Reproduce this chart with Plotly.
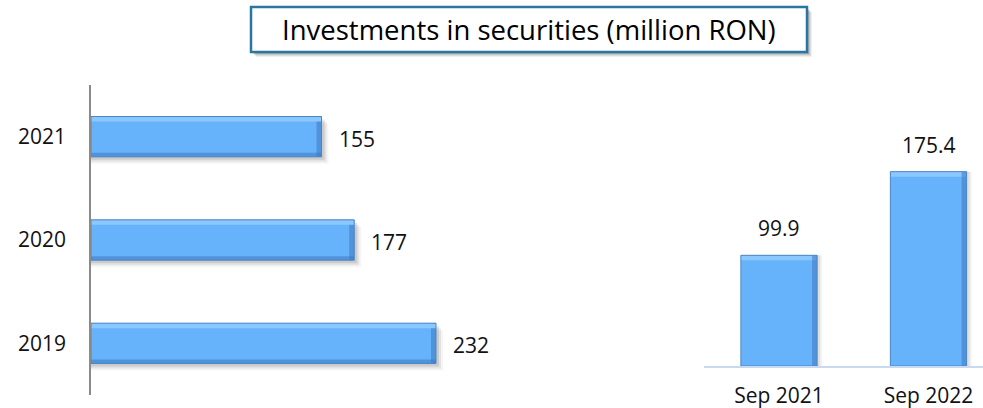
import plotly.graph_objects as go

years = ["2019", "2020", "2021"]
year_values = [232, 177, 155]
months = ["Sep 2021", "Sep 2022"]
month_values = [99.9, 175.4]
month_labels = ["99.9", "175.4"]
title_text = "Investments in securities (million RON)"

W, H = 983, 408
FONT = "Open Sans, Noto Sans, sans-serif"
BAR = "#66b3fb"
LIGHT = "#8ac8ff"
DARK = "rgba(62,120,192,0.55)"
EDGE = "#4a86c4"

def px(x):
    return x / W

def py(y):
    return 1 - y / H

L_X0, L_X1 = 91, 500
L_SCALE = (436 - 91) / 232.0          # px per million RON, left chart
L_CAT = 103.0                          # px per category, left chart
R_X0, R_X1 = 704.25, 983
R_SCALE = 1.108                        # px per million RON, right chart
R_CAT = 149.5                          # px per category, right chart
R_BASE, R_TOP = 366, 100

HW = 0.39   # horizontal bar thickness (category units)
VW = 0.51   # vertical bar width (category units)

fig = go.Figure()

def hbar(x, offset, width, color, base=None, line=None):
    fig.add_trace(go.Bar(
        y=years, x=x, base=base, orientation="h", offset=offset, width=width,
        marker=dict(color=color, line=line or dict(width=0)),
        xaxis="x", yaxis="y", showlegend=False, hoverinfo="skip",
    ))

def vbar(y, offset, width, color, base=None, line=None):
    fig.add_trace(go.Bar(
        x=months, y=y, base=base, offset=offset, width=width,
        marker=dict(color=color, line=line or dict(width=0)),
        xaxis="x2", yaxis="y2", showlegend=False, hoverinfo="skip",
    ))

# --- left: horizontal bars with bevel + drop shadow
for k, op in [(7, 0.04), (5, 0.07), (3, 0.10)]:
    hbar([v + k / L_SCALE for v in year_values], -HW / 2 - k / L_CAT, HW,
         f"rgba(0,0,0,{op})")
hbar(year_values, -HW / 2, HW, BAR)
hbar([5 / L_SCALE] * len(year_values), -HW / 2, HW, DARK,
     base=[v - 5 / L_SCALE for v in year_values])
hbar(year_values, HW / 2 - 5 / L_CAT, 5 / L_CAT, LIGHT)
hbar(year_values, -HW / 2, 4 / L_CAT, DARK)
hbar(year_values, -HW / 2, HW, "rgba(0,0,0,0)", line=dict(color=EDGE, width=1))

# --- right: vertical bars with bevel + drop shadow
for k, op in [(5, 0.05), (3, 0.08)]:
    vbar(month_values, -VW / 2 + k / R_CAT, VW, f"rgba(0,0,0,{op})")
vbar(month_values, -VW / 2, VW, BAR)
vbar([5 / R_SCALE] * len(month_values), -VW / 2, VW, LIGHT,
     base=[v - 5 / R_SCALE for v in month_values])
vbar(month_values, VW / 2 - 5 / R_CAT, 5 / R_CAT, DARK)
vbar(month_values, -VW / 2, VW, "rgba(0,0,0,0)", line=dict(color=EDGE, width=1))

for i, v in enumerate(year_values):
    fig.add_annotation(x=v, y=i, xref="x", yref="y", text=str(v),
                       showarrow=False, xanchor="left", xshift=15, yshift=-2,
                       font=dict(family=FONT, size=21, color="#111"))
for i, (v, t) in enumerate(zip(month_values, month_labels)):
    fig.add_annotation(x=i, y=v, xref="x2", yref="y2", text=t,
                       showarrow=False, yanchor="bottom", yshift=11,
                       font=dict(family=FONT, size=21, color="#111"))

# title box with soft shadow
for off, op in [(5, 0.06), (4, 0.08), (3, 0.10), (2, 0.12)]:
    fig.add_shape(type="rect", xref="paper", yref="paper",
                  x0=px(251 + off), x1=px(807 + off), y0=py(52 + off), y1=py(7 + off),
                  line=dict(width=0), fillcolor=f"rgba(0,0,0,{op})", layer="below")
fig.add_shape(type="rect", xref="paper", yref="paper",
              x0=px(251), x1=px(807), y0=py(52), y1=py(7),
              line=dict(color="#2a76a3", width=2.5), fillcolor="white", layer="below")
fig.add_annotation(x=px(529), y=py(30), xref="paper", yref="paper",
                   text=title_text, showarrow=False, xanchor="center", yanchor="middle",
                   font=dict(family=FONT, size=27.5, color="#000"))

fig.update_layout(
    width=W, height=H,
    margin=dict(l=0, r=0, t=0, b=0, autoexpand=False),
    paper_bgcolor="white", plot_bgcolor="rgba(0,0,0,0)",
    font=dict(family=FONT, size=21, color="#111"),
    barmode="overlay",
    xaxis=dict(domain=[px(L_X0), px(L_X1)], range=[0, (L_X1 - L_X0) / L_SCALE],
               visible=False, fixedrange=True, automargin=False),
    yaxis=dict(domain=[py(395), py(85)], range=[-0.5, 2.5], type="category",
               showline=True, linecolor="#8a8a8a", linewidth=1.5, automargin=False,
               showgrid=False, zeroline=False, ticks="outside", ticklen=19,
               tickcolor="rgba(0,0,0,0)", tickfont=dict(family=FONT, size=21, color="#111")),
    xaxis2=dict(domain=[px(R_X0), px(R_X1)], range=[-0.5, -0.5 + (R_X1 - R_X0) / R_CAT],
                anchor="y2", type="category", showline=True, linecolor="#c9d9ef",
                linewidth=2, showgrid=False, zeroline=False, ticks="outside", ticklen=10,
                automargin=False,
                tickcolor="rgba(0,0,0,0)", tickfont=dict(family=FONT, size=21, color="#111")),
    yaxis2=dict(domain=[py(R_BASE), py(R_TOP)], range=[0, (R_BASE - R_TOP) / R_SCALE],
                anchor="x2", visible=False, automargin=False),
)

fig.write_html(
    "out.html",
    config={"displayModeBar": False},
    post_script="document.body.style.margin='0';document.body.style.overflow='hidden';",
)
